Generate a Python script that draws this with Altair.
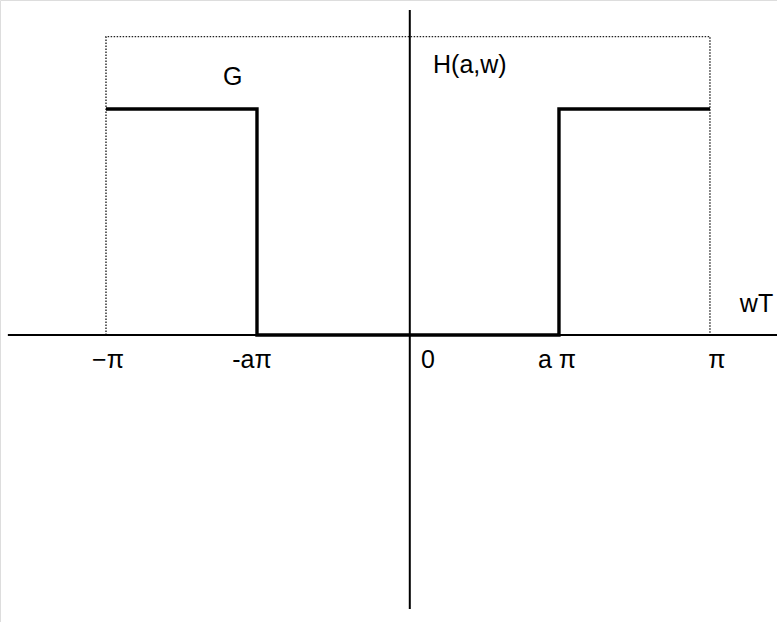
import altair as alt
import pandas as pd

# Frequency axis in units of pi, gain normalised to the passband level
a = 0.5
step_w = [-1.0, -a, -a, a, a, 1.0]
step_g = [1.0, 1.0, 0.0, 0.0, 1.0, 1.0]

bound_w = [-1.0, -1.0, 1.0, 1.0]
bound_g = [0.0, 1.32, 1.32, 0.0]

tick_pos = [-1.0, -a, 0.0, a, 1.0]
tick_text = ["\u2212\u03c0", "-a\u03c0", "0", "a \u03c0", "\u03c0"]
tick_dx = [2, -5, 20, -2, 7]

note_text = ["G", "H(a,w)", "wT"]
note_w = [-0.58, 0.083, 1.099]
note_g = [1.14, 1.195, 0.137]
note_align = ["center", "left", "left"]

X_DOMAIN = [-1.351, 1.222]
Y_DOMAIN = [-1.270, 1.482]
FONT = "Liberation Sans"
FS = 25

xs = alt.Scale(domain=X_DOMAIN, nice=False, zero=False)
ys = alt.Scale(domain=Y_DOMAIN, nice=False, zero=False)

step_df = pd.DataFrame({"w": step_w, "g": step_g, "i": range(len(step_w))})
bound_df = pd.DataFrame({"w": bound_w, "g": bound_g, "i": range(len(bound_w))})
tick_df = pd.DataFrame({"w": tick_pos, "t": tick_text, "dx": tick_dx})
note_df = pd.DataFrame({"w": note_w, "g": note_g, "t": note_text, "al": note_align})

# dotted envelope of the ideal response
bound = alt.Chart(bound_df).mark_line(
    color="#222", strokeWidth=1.4, strokeDash=[1.5, 1.5]
).encode(
    x=alt.X("w:Q", scale=xs, axis=None),
    y=alt.Y("g:Q", scale=ys, axis=None),
    order="i:O",
)

# high-pass magnitude response
step = alt.Chart(step_df).mark_line(
    color="black", strokeWidth=3.4, strokeJoin="miter"
).encode(
    x=alt.X("w:Q", scale=xs, axis=None),
    y=alt.Y("g:Q", scale=ys, axis=None),
    order="i:O",
)

axes_df = pd.DataFrame({
    "x1": [-1.325, 0.006], "x2": [1.222, 0.006],
    "y1": [0.0, 1.438], "y2": [0.0, -1.212],
})
axes = alt.Chart(axes_df).mark_rule(color="black", strokeWidth=2).encode(
    x=alt.X("x1:Q", scale=xs, axis=None),
    x2="x2:Q",
    y=alt.Y("y1:Q", scale=ys, axis=None),
    y2="y2:Q",
)

tick_layers = [
    alt.Chart(tick_df[tick_df["dx"] == d]).transform_calculate(g="-0.11").mark_text(
        font=FONT, fontSize=FS, color="black", baseline="middle", dx=d
    ).encode(
        x=alt.X("w:Q", scale=xs, axis=None),
        y=alt.Y("g:Q", scale=ys, axis=None),
        text="t:N",
    )
    for d in tick_dx
]

note_layers = [
    alt.Chart(note_df[note_df["al"] == al]).mark_text(
        font=FONT, fontSize=FS, color="black", baseline="middle", align=al
    ).encode(
        x=alt.X("w:Q", scale=xs, axis=None),
        y=alt.Y("g:Q", scale=ys, axis=None),
        text="t:N",
    )
    for al in ["center", "left"]
]

chart = alt.layer(bound, step, axes, *tick_layers, *note_layers).properties(
    width=777, height=622, padding=0,
    autosize=alt.AutoSizeParams(type="none"),
).configure_view(stroke=None).configure(background="white")

chart.save("out.html", embed_options={"renderer": "svg", "actions": False})
